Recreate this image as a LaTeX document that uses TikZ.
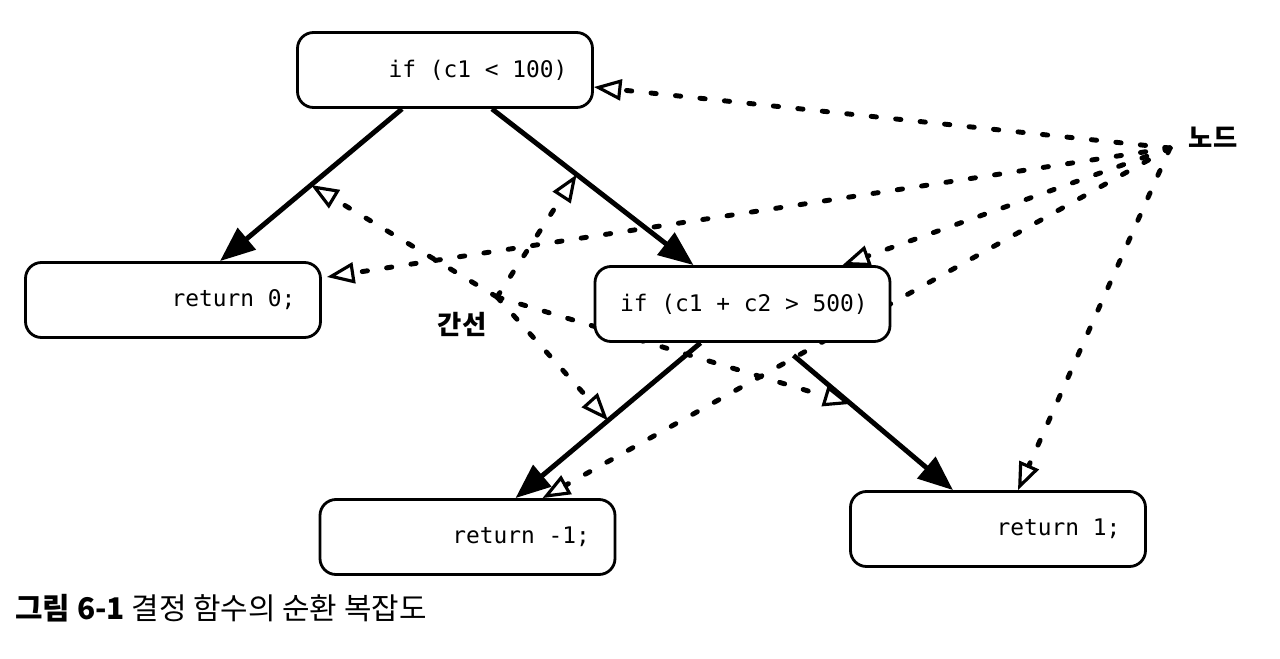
\documentclass[tikz,border=0pt]{standalone}
\usepackage{fontspec}
\newfontfamily\krfont{Noto Sans CJK KR}
\newfontfamily\codefont{DejaVu Sans Mono}
\newcommand\codegap{\hspace*{0.602em}}
\usetikzlibrary{arrows.meta,backgrounds}

\begin{document}
\begin{tikzpicture}[x=2mm,y=2mm]
\tikzstyle{box}=[draw=black, line width=1.6pt, rounded corners=0.32cm, fill=white, minimum height=1.5cm, text width=4.9cm, inner xsep=0.5cm, inner ysep=0pt, align=right, font=\codefont\fontsize{13}{15}\selectfont]
\tikzstyle{flow}=[line width=2.8pt, -{Triangle[length=7mm,width=5.5mm]}]
\tikzstyle{hint}=[line width=2.8pt, line cap=round, dash pattern=on 3pt off 11pt, -{Triangle[open,length=5.5mm,width=4.2mm,line width=1.8pt]}]
\tikzstyle{tag}=[inner sep=0pt, font=\krfont\bfseries\fontsize{15}{18}\selectfont]
\useasboundingbox (0,0) rectangle (128,-65.8);
\node[box] (top) at (44.5,-7.0) {if\codegap(c1\codegap<\codegap100)\hspace*{0.48cm}};
\node[box] (ret0) at (17.3,-30.0) {return\codegap0;};
\node[box] (cond) at (74.25,-30.4) {if\codegap(c1\codegap+\codegap c2\codegap>\codegap500)};
\node[box] (retm) at (46.75,-53.7) {return\codegap-1;};
\node[box] (ret1) at (99.8,-52.9) {return\codegap1;};
\node[tag] (nodelabel) at (121.3,-13.7) {노드};
\node[tag] (edgelabel) at (46.2,-32.4) {간선};
\node[anchor=west, inner sep=0pt, font=\krfont\fontsize{17}{20}\selectfont] (caption) at (1.5,-60.8) {{\bfseries 그림 6-1} 결정 함수의 순환 복잡도};
\coordinate (nodept) at (117.0,-14.8);
\coordinate (edgept) at (49.7,-29.7);
% control flow
\draw[flow] ([xshift=-0.86cm]top.south) -- coordinate[pos=0.5] (f1) ([xshift=0.94cm]ret0.north);
\draw[flow] ([xshift=0.94cm]top.south) -- coordinate[pos=0.42] (f2) ([xshift=-0.98cm]cond.north);
\draw[flow] ([xshift=-0.84cm]cond.south) -- coordinate[pos=0.5] (f3) ([xshift=0.96cm]retm.north);
\draw[flow] ([xshift=1.02cm,yshift=-0.25cm]cond.south) -- coordinate[pos=0.36] (f4) ([xshift=-0.9cm]ret1.north);
% pointers from the labels
\begin{scope}[on background layer]
\fill[white] (0,0) rectangle (128,-65.8);
\draw[hint] (nodept) -- ([yshift=-0.34cm]top.east);
\draw[hint] (nodept) -- ([xshift=0.1cm,yshift=0.46cm]ret0.east);
\draw[hint] (nodept) -- ([xshift=2cm]cond.north);
\draw[hint] (nodept) -- ([xshift=1.5cm]retm.north);
\draw[hint] (nodept) -- ([xshift=0.4cm]ret1.north);
\draw[hint] (edgept) -- (f1);
\draw[hint] (edgept) -- (f2);
\draw[hint] (edgept) -- (f3);
\draw[hint] (edgept) -- (f4);
\end{scope}
\end{tikzpicture}
\end{document}
